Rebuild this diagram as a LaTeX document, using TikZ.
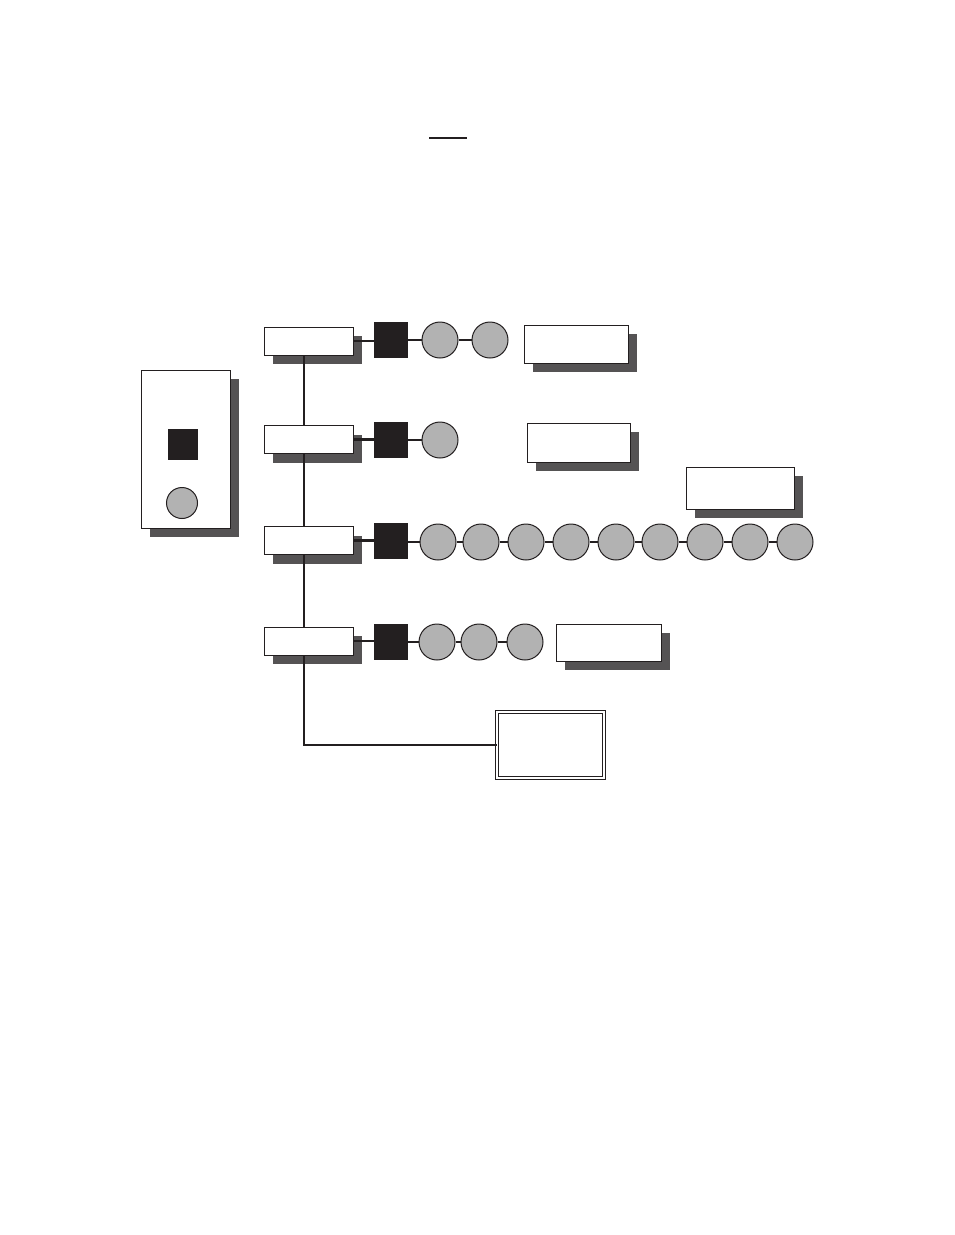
\documentclass[tikz,border=0pt]{standalone}
\usepackage{tikz}
\usetikzlibrary{shapes,shadows,positioning}
\usepackage{xcolor}
\definecolor{inkblack}{RGB}{35,31,32}
\definecolor{beadgray}{RGB}{178,178,178}
\definecolor{shadowgray}{RGB}{85,83,84}

\begin{document}
\begin{tikzpicture}[
    x=1pt, y=-1pt,
    shade/.style={drop shadow={shadow xshift=9pt, shadow yshift=-9pt, fill=shadowgray, opacity=1}},
    hub/.style={rectangle, draw=inkblack, line width=1pt, fill=white, shade,
                minimum width=89pt, minimum height=28pt, inner sep=0pt},
    note/.style={rectangle, draw=inkblack, line width=1pt, fill=white, shade,
                 inner sep=0pt},
    port/.style={rectangle, fill=inkblack, minimum width=34pt, minimum height=36pt, inner sep=0pt},
    bead/.style={circle, draw=inkblack, line width=1pt, fill=beadgray,
                 minimum size=36pt, inner sep=0pt},
    link/.style={draw=inkblack, line width=2.8pt}
]
\useasboundingbox (0,0) rectangle (954,1235);

% rule at the top
\draw[inkblack, line width=1.4pt] (429,138) -- (467,138);

% legend
\node[note, minimum width=89pt, minimum height=158pt] (legend) at (185.5,449) {};
\node[port, minimum width=30pt, minimum height=31pt]  (keyport) at (183,444.5) {};
\node[bead, minimum size=31pt]                        (keybead) at (182,503) {};

% hubs
\node[hub] (h1) at (308.5,341)   {};
\node[hub] (h2) at (308.5,439.5) {};
\node[hub] (h3) at (308.5,540.5) {};
\node[hub] (h4) at (308.5,641)   {};

% row 1
\node[port] (p1)  at (391,340) {};
\node[bead] (b11) at (440,340) {};
\node[bead] (b12) at (490,340) {};
\node[note, minimum width=104pt, minimum height=38pt] (n1) at (576,344) {};

% row 2
\node[port] (p2)  at (391,440) {};
\node[bead] (b21) at (440,440) {};
\node[note, minimum width=103pt, minimum height=39pt] (n2) at (578.5,442.5) {};

% row 3
\node[note, minimum width=108pt, minimum height=42pt] (n3) at (740,488) {};
\node[port] (p3) at (391,541) {};
\foreach \x [count=\i] in {438,481,526,571,616,660,705,750,795}
    \node[bead] (b3\i) at (\x,542) {};

% row 4
\node[port] (p4)  at (391,642) {};
\node[bead] (b41) at (437,642) {};
\node[bead] (b42) at (479,642) {};
\node[bead] (b43) at (525,642) {};
\node[note, minimum width=105pt, minimum height=37pt] (n4) at (608.5,642.5) {};

% end box
\node[rectangle, draw=inkblack, line width=1pt, double, double distance=1.5pt, fill=white,
      minimum width=107pt, minimum height=66pt, inner sep=0pt] (fin) at (550.5,745) {};

% connectors
\draw[link] ([xshift=-4.5pt]h1.south) -- ([xshift=-4.5pt]h2.north);
\draw[link] ([xshift=-4.5pt]h2.south) -- ([xshift=-4.5pt]h3.north);
\draw[link] ([xshift=-4.5pt]h3.south) -- ([xshift=-4.5pt]h4.north);
\draw[link] ([xshift=-4.5pt]h4.south) |- (fin.west);

\draw[link] (h1) -- (h1 -| p1.west);
\draw[link] (p1) -- (b11);
\draw[link] (b11) -- (b12);

\draw[link] (h2) -- (h2 -| p2.west);
\draw[link] (p2) -- (b21);

\draw[link] (h3) -- (h3 -| p3.west);
\draw[link] (p3.east |- b31) -- (b31);
\foreach \i/\j in {1/2,2/3,3/4,4/5,5/6,6/7,7/8,8/9}
    \draw[link] (b3\i) -- (b3\j);

\draw[link] (h4) -- (h4 -| p4.west);
\draw[link] (p4) -- (b41);
\draw[link] (b41) -- (b42);
\draw[link] (b42) -- (b43);
\end{tikzpicture}
\end{document}
